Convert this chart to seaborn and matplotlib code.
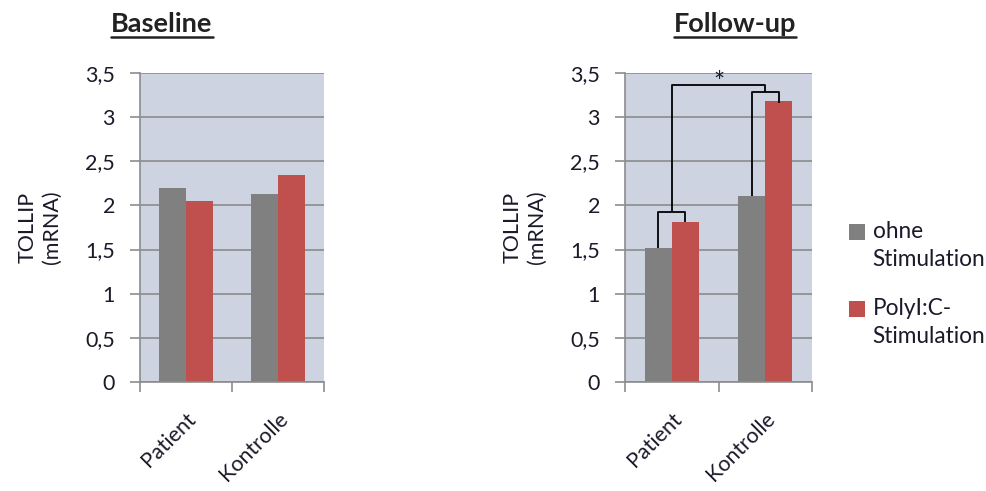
import matplotlib
matplotlib.use("Agg")
import matplotlib.pyplot as plt
import seaborn as sns
import pandas as pd
from matplotlib.patches import Patch, Rectangle
from matplotlib.lines import Line2D
from matplotlib.legend_handler import HandlerPatch

categories = ["Patient", "Kontrolle"]
series = ["ohne\nStimulation", "PolyI:C-\nStimulation"]
baseline_ohne = [2.20, 2.13]
baseline_poly = [2.05, 2.35]
followup_ohne = [1.52, 2.11]
followup_poly = [1.81, 3.18]
y_ticks = [0, 0.5, 1, 1.5, 2, 2.5, 3, 3.5]
y_tick_labels = ["0", "0,5", "1", "1,5", "2", "2,5", "3", "3,5"]

colors = ["#808080", "#c0504d"]
bg = "#cdd3e1"
grid_c = "#8c8c8c"
text_c = "#1a1a2a"
fs = 15.5

sns.set_theme(style="white")
plt.rcParams["font.family"] = ["Lato", "DejaVu Sans"]

fig = plt.figure(figsize=(9.87, 4.91), dpi=100)
W, H = 987, 491


def make_frame(ohne, poly):
    return pd.DataFrame({
        "Gruppe": categories * 2,
        "Bedingung": [series[0]] * 2 + [series[1]] * 2,
        "Wert": list(ohne) + list(poly),
    })


def style_axes(ax):
    ax.set_facecolor(bg)
    ax.set_ylim(0, 3.5)
    ax.set_xlim(-0.5, 1.5)
    ax.set_yticks(y_ticks)
    ax.set_yticklabels(y_tick_labels, fontsize=fs, color=text_c)
    ax.yaxis.grid(True, color=grid_c, lw=1.2)
    ax.set_axisbelow(True)
    for s in ["top", "right"]:
        ax.spines[s].set_visible(False)
    for s in ["left", "bottom"]:
        ax.spines[s].set_color(grid_c)
        ax.spines[s].set_linewidth(1.2)
    ax.tick_params(axis="y", which="major", length=7, color=grid_c, width=1.2, pad=11, left=True)
    ax.set_xticks([0, 1])
    ax.set_xticklabels(categories, rotation=45, ha="right", rotation_mode="anchor",
                       fontsize=fs, color=text_c)
    ax.tick_params(axis="x", which="major", length=0, pad=19)
    ax.set_xticks([-0.5, 0.5, 1.5], minor=True)
    ax.tick_params(axis="x", which="minor", length=7, color=grid_c, width=1.2, bottom=True)
    ax.set_xlabel("")
    ax.set_ylabel("TOLLIP\n(mRNA)", fontsize=fs, color=text_c, labelpad=17, linespacing=1.25)


def draw_panel(rect, ohne, poly):
    ax = fig.add_axes(rect)
    sns.barplot(data=make_frame(ohne, poly), x="Gruppe", y="Wert", hue="Bedingung",
                palette=colors, width=0.58, saturation=1, ax=ax, legend=False,
                errorbar=None, linewidth=0)
    style_axes(ax)
    return ax


ax1 = draw_panel([140 / W, (H - 382) / H, 184 / W, 309 / H], baseline_ohne, baseline_poly)
ax2 = draw_panel([625 / W, (H - 382) / H, 187 / W, 309 / H], followup_ohne, followup_poly)

# significance brackets on the follow-up panel
off = 0.145
bk = dict(color="black", lw=1.3, solid_capstyle="butt")
top_p = 1.93
top_k = 3.28
ax2.plot([-off, -off, off, off], [followup_ohne[0], top_p, top_p, followup_poly[0]], **bk)
ax2.plot([1 - off, 1 - off, 1 + off, 1 + off], [followup_ohne[1], top_k, top_k, followup_poly[1] - 0.02], **bk)
top_b = 3.36
ax2.plot([0, 0, 1, 1], [top_p, top_b, top_b, top_k], **bk)
ax2.text(0.5, top_b - 0.12, "*", ha="center", va="bottom", fontsize=19, color=text_c)

# underlined panel titles
titles = [("Baseline", 162), ("Follow-up", 735)]
fig.canvas.draw()
renderer = fig.canvas.get_renderer()
for label, xc in titles:
    t = fig.text(xc / W, 1 - 24 / H, label, ha="center", va="center",
                 fontsize=19.5, fontweight="bold", color="#222222")
    bb = t.get_window_extent(renderer)
    y_line = bb.y0 - 1
    fig.add_artist(Line2D([bb.x0 / W, bb.x1 / W], [y_line / H, y_line / H],
                          color="#222222", lw=1.8))


# legend squares sit beside the first line of each two-line label
def top_square(legend, orig_handle, xdescent, ydescent, width, height, fontsize):
    return Rectangle((-xdescent, -ydescent + 10), width, height)


leg_fs = 16.3
handles = [Patch(facecolor=c, edgecolor="none") for c in colors]
leg = fig.legend(handles, series, loc="center left", bbox_to_anchor=(829 / W, 1 - 284 / H),
                 frameon=False, fontsize=leg_fs, handlelength=0.68, handleheight=0.68,
                 handletextpad=0.35, labelspacing=1.25, labelcolor=text_c,
                 handler_map={Patch: HandlerPatch(patch_func=top_square)})
for txt in leg.get_texts():
    txt.set_linespacing(1.39)

fig.savefig("out.png", dpi=100)
